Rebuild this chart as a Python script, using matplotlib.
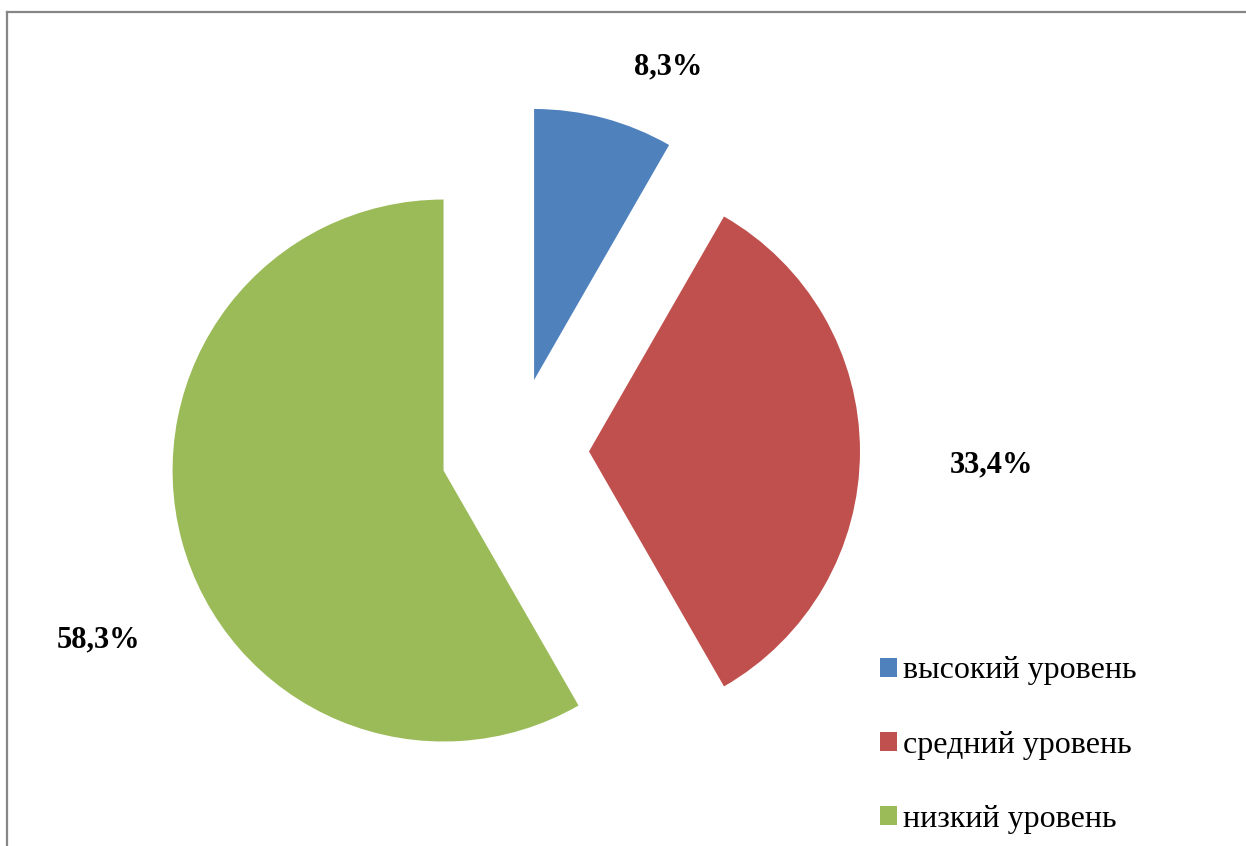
import matplotlib.pyplot as plt
from matplotlib.patches import Patch
from matplotlib.lines import Line2D

plt.rcParams['font.family'] = ['Liberation Serif', 'DejaVu Serif']

# данные
categories = ['высокий уровень', 'средний уровень', 'низкий уровень']
values = [8.3, 33.4, 58.3]
value_labels = ['8,3%', '33,4%', '58,3%']
colors = ['#4F81BD', '#C0504D', '#9BBB59']

# позиции подписей (в единицах радиуса)
label_pos = [(0.565, 1.419), (1.760, -0.050), (-1.537, -0.696)]

fig = plt.figure(figsize=(12.46, 8.46), dpi=100)
ax = fig.add_axes([0, 0, 1, 1])

ax.pie(values, explode=[0.273] * 3, startangle=90, counterclock=False,
       colors=colors, radius=1.0, center=(0, 0))
ax.set_xlim(-1.900, 2.697)
ax.set_ylim(-1.456, 1.666)
ax.set_aspect('equal')
ax.axis('off')

for txt, (x, y) in zip(value_labels, label_pos):
    ax.text(x, y, txt, ha='center', va='center', fontsize=22, fontweight='bold')

# легенда
handles = [Patch(facecolor=c, edgecolor='none') for c in colors]
fig.legend(handles, categories, loc='upper left', bbox_to_anchor=(0.7064, 0.224),
           frameon=False, fontsize=23, handlelength=0.53, handleheight=0.53,
           handletextpad=0.2, labelspacing=1.41, borderpad=0, borderaxespad=0)

# рамка
fig.add_artist(Line2D([6.5 / 1246, 6.5 / 1246], [0, 1 - 12.5 / 846], color='#868686', lw=1.6))
fig.add_artist(Line2D([6.5 / 1246, 1], [1 - 12.5 / 846, 1 - 12.5 / 846], color='#868686', lw=1.6))

fig.savefig('out.png', dpi=100)
